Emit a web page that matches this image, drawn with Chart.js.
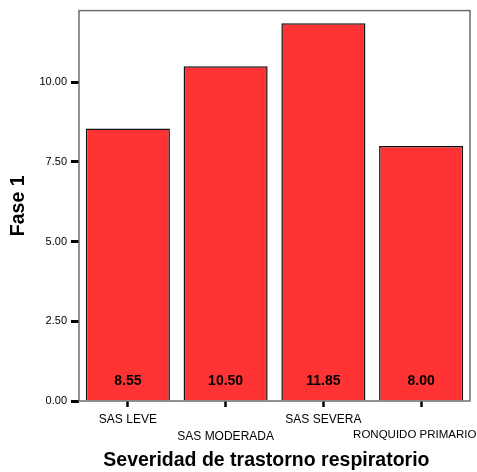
<!DOCTYPE html>
<html>
<head>
<meta charset="utf-8">
<script src="https://cdn.jsdelivr.net/npm/chart.js@4/dist/chart.umd.min.js"></script>
<style>
    html, body { margin: 0; padding: 0; background: #fff; }
    #wrap { width: 477px; height: 472px; }
</style>
</head>
<body>
<div id="wrap"><canvas id="myChart" width="477" height="472"></canvas></div>
<script>
const categories = ["SAS LEVE", "SAS MODERADA", "SAS SEVERA", "RONQUIDO PRIMARIO"]
const values = [8.55, 10.50, 11.85, 8.00]
const yTicks = [0, 2.5, 5, 7.5, 10]

// staggered labels: odd ones go on the second line
// (trailing spaces nudge the last one left so it stays inside the canvas)
const lastIdx = categories.length - 1
const xLabels = categories.map((c, i) => {
    const txt = i === lastIdx ? c + "    " : c
    return i % 2 === 0 ? [txt, ""] : ["", txt]
})

const frame = {
    id: "frame",
    afterDraw(chart) {
        const { ctx, chartArea: a } = chart
        ctx.save()
        ctx.strokeStyle = "#6e6e6e"
        ctx.lineWidth = 1.5
        ctx.strokeRect(a.left, a.top, a.right - a.left, a.bottom - a.top)
        ctx.restore()
    }
}

const barValues = {
    id: "barValues",
    afterDatasetsDraw(chart) {
        const { ctx } = chart
        const meta = chart.getDatasetMeta(0)
        const y = chart.scales.y.getPixelForValue(0) - 20
        ctx.save()
        ctx.font = "bold 14px 'Liberation Sans', Arial, sans-serif"
        ctx.fillStyle = "#000"
        ctx.textAlign = "center"
        ctx.textBaseline = "middle"
        meta.data.forEach((bar, i) => {
            ctx.fillText(values[i].toFixed(2), bar.x, y)
        })
        ctx.restore()
    }
}

function printChart() {
    const ctx = document.getElementById("myChart")
    Chart.defaults.font.family = "'Liberation Sans', Arial, sans-serif"
    Chart.defaults.color = "#000"

    new Chart(ctx, {
        type: "bar",
        data: {
            labels: xLabels,
            datasets: [{
                data: values,
                backgroundColor: "#ff3333",
                borderColor: "#111",
                borderWidth: 1.5,
                barPercentage: 0.86,
                categoryPercentage: 1,
            }],
        },
        options: {
            responsive: false,
            animation: false,
            layout: { padding: { top: 9, right: 7, left: 0, bottom: 0 } },
            plugins: { legend: { display: false }, tooltip: { enabled: false } },
            scales: {
                x: {
                    grid: { drawOnChartArea: false, tickLength: 6, tickColor: "#000", tickWidth: 2.5, offset: false },
                    border: { display: false },
                    ticks: {
                        font: c => ({ size: c.index === lastIdx ? 11.5 : 12, lineHeight: 1.4 }),
                        padding: 4,
                        maxRotation: 0,
                        autoSkip: false,
                    },
                    title: {
                        display: true,
                        text: "Severidad de trastorno respiratorio   ",
                        font: { size: 19.5, weight: "bold" },
                        padding: { top: 0, bottom: 0 },
                    },
                    afterFit(scale) {
                        scale.height = 71
                        scale.paddingLeft = 0
                        scale.paddingRight = 0
                    },
                },
                y: {
                    min: 0,
                    max: 12.25,
                    afterBuildTicks(scale) { scale.ticks = yTicks.map(v => ({ value: v })) },
                    grid: { drawOnChartArea: false, tickLength: 8, tickColor: "#000", tickWidth: 3 },
                    border: { display: false },
                    ticks: { font: { size: 11 }, padding: 4, callback: v => v.toFixed(2) },
                    title: {
                        display: true,
                        text: "Fase 1",
                        font: { size: 19.5, weight: "bold" },
                        padding: { top: 7, bottom: 0 },
                    },
                    afterFit(scale) { scale.width = 79 },
                },
            },
        },
        plugins: [frame, barValues],
    })
}

document.addEventListener("DOMContentLoaded", printChart)
</script>
</body>
</html>
